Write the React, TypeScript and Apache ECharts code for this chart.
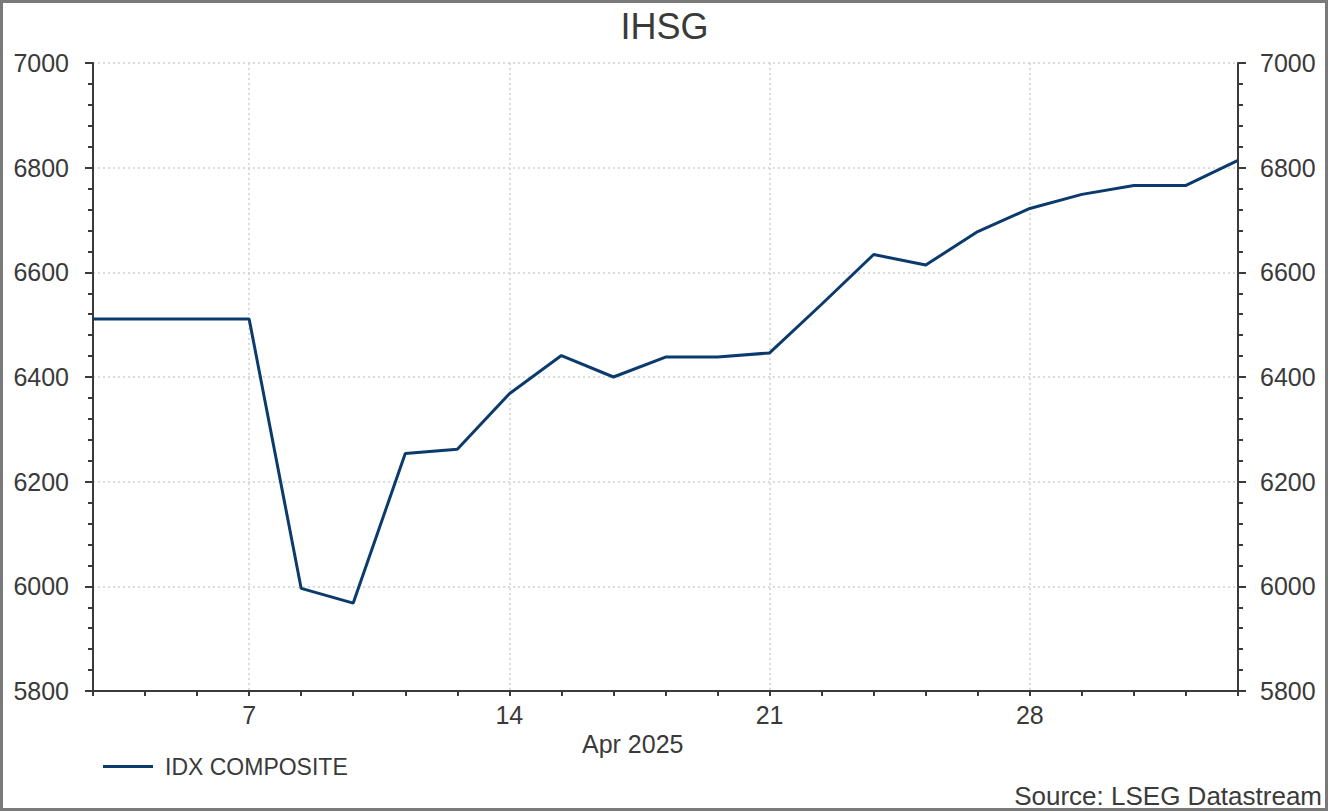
import React, { useEffect, useRef } from "react";
import * as echarts from "echarts";

const dates = ["Apr 2", "Apr 3", "Apr 4", "Apr 7", "Apr 8", "Apr 9", "Apr 10", "Apr 11", "Apr 14", "Apr 15", "Apr 16", "Apr 17", "Apr 18", "Apr 21", "Apr 22", "Apr 23", "Apr 24", "Apr 25", "Apr 28", "Apr 29", "Apr 30", "May 1", "May 2"];
const idxComposite = [6511, 6511, 6511, 6511, 5996, 5968, 6254, 6262, 6368, 6441, 6400, 6438, 6438, 6446, 6539, 6634, 6614, 6678, 6722, 6749, 6766, 6766, 6814];
const tickDays = ["Apr 7", "Apr 14", "Apr 21", "Apr 28"];
const tickLabels = ["7", "14", "21", "28"];

const FONT = "'Liberation Sans', Arial, sans-serif";
const TEXT = "#3a3a3a";
const AXIS = "#3a3a3a";

export default function App() {
  const ref = useRef<HTMLDivElement>(null);
  useEffect(() => {
    const chart = echarts.init(ref.current!, null, { renderer: "svg" });
    const showIdx = (i: number) => tickDays.includes(dates[i]);
    const yAxisBase = {
      type: "value",
      min: 5800,
      max: 7000,
      interval: 200,
      axisLine: { show: true, lineStyle: { color: AXIS, width: 2 } },
      axisTick: { show: true, length: 8, lineStyle: { color: AXIS, width: 2 } },
      minorTick: { show: true, splitNumber: 5, length: 5, lineStyle: { color: AXIS, width: 2 } },
      axisLabel: {
        color: TEXT,
        fontSize: 25,
        fontFamily: FONT,
        margin: 24,
        formatter: (v: number) => String(v),
      },
    };
    chart.setOption({
      animation: false,
      backgroundColor: "#ffffff",
      title: {
        text: "IHSG",
        left: "center",
        top: 3,
        textStyle: { color: TEXT, fontSize: 36, fontWeight: "normal", fontFamily: FONT },
      },
      grid: { left: 93, right: 91, top: 63, bottom: 121, containLabel: false },
      legend: {
        left: 103,
        top: 755,
        padding: 0,
        itemWidth: 50,
        itemHeight: 24,
        icon: "path://M0,10.5 L50,10.5 L50,13.5 L0,13.5 Z",
        textStyle: { color: TEXT, fontSize: 23, fontFamily: FONT, padding: [0, 0, 0, 7] },
        data: ["IDX COMPOSITE"],
      },
      xAxis: {
        type: "category",
        data: dates,
        boundaryGap: false,
        axisLine: { show: true, lineStyle: { color: AXIS, width: 2 } },
        axisTick: { show: true, interval: 0, length: 5, lineStyle: { color: AXIS, width: 2 } },
        axisLabel: {
          interval: (i: number) => showIdx(i),
          formatter: (v: string) => tickLabels[tickDays.indexOf(v)] ?? "",
          color: TEXT,
          fontSize: 25,
          fontFamily: FONT,
          margin: 11,
        },
        splitLine: {
          show: true,
          interval: (i: number) => showIdx(i),
          lineStyle: { color: "#d0d0d0", type: [2, 3], width: 1.5 },
        },
      },
      yAxis: [
        {
          ...yAxisBase,
          position: "left",
          splitLine: { show: true, lineStyle: { color: "#d0d0d0", type: [2, 3], width: 1.5 } },
        },
        {
          ...yAxisBase,
          position: "right",
          axisLabel: { ...yAxisBase.axisLabel, margin: 22 },
          splitLine: { show: false },
        },
      ],
      graphic: [
        {
          type: "text",
          left: 582,
          top: 731,
          style: { text: "Apr 2025", fill: TEXT, fontSize: 25, fontFamily: FONT },
        },
        {
          type: "text",
          right: 7,
          top: 783,
          style: { text: "Source: LSEG Datastream", fill: TEXT, fontSize: 26, fontFamily: FONT },
        },
        {
          type: "rect",
          shape: { x: 1.5, y: 1.5, width: 1325, height: 808 },
          style: { fill: "none", stroke: "#7a7a7a", lineWidth: 3 },
          silent: true,
          z: 100,
        },
      ],
      series: [
        {
          name: "IDX COMPOSITE",
          type: "line",
          data: idxComposite,
          yAxisIndex: 0,
          showSymbol: false,
          symbol: "none",
          lineStyle: { color: "#0b3a6c", width: 3 },
          itemStyle: { color: "#0b3a6c" },
        },
      ],
    });
    return () => chart.dispose();
  }, []);
  return (
    <div
      ref={ref}
      style={{ position: "absolute", left: 0, top: 0, width: 1329, height: 812 }}
    />
  );
}
